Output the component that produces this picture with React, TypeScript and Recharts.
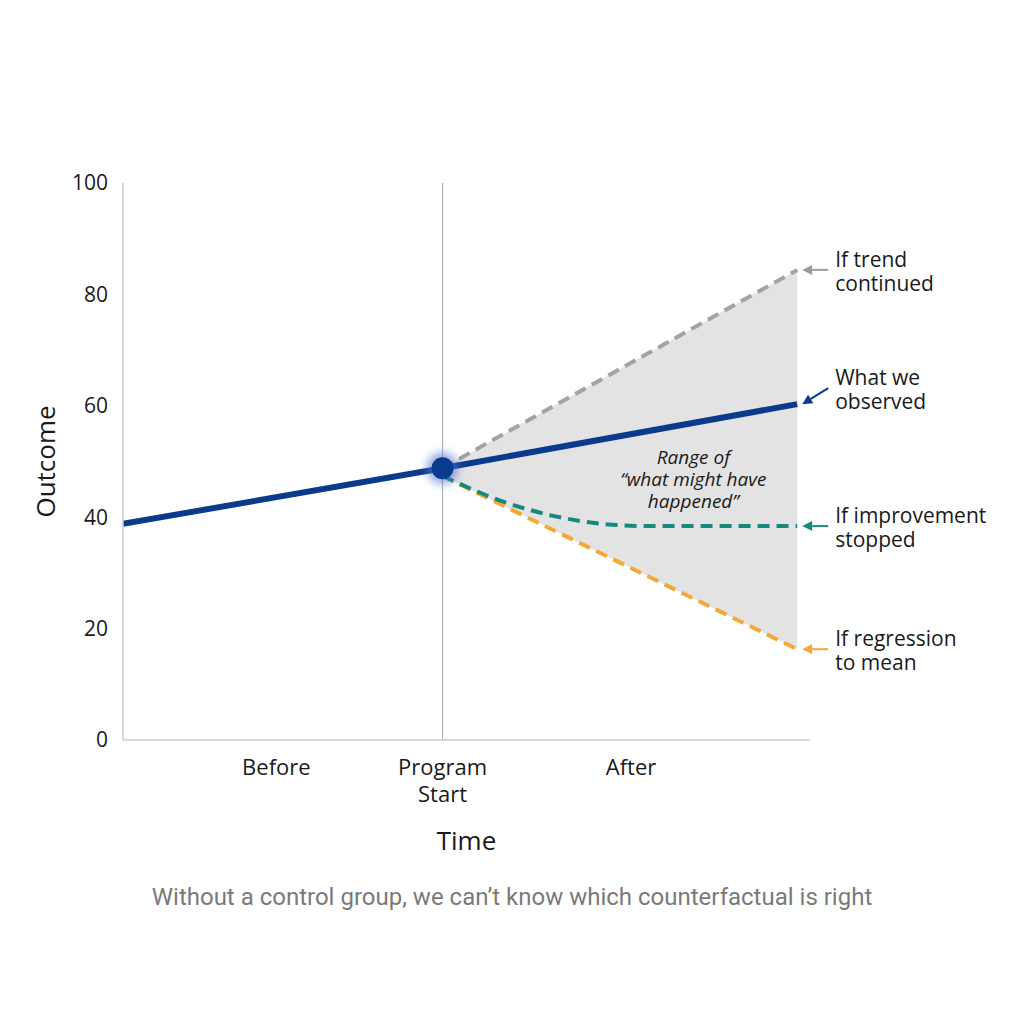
import React from 'react';
import { ComposedChart, Line, Area, XAxis, YAxis, ReferenceLine, ReferenceDot } from 'recharts';

// time units: 0 = left edge, 10 = program start
const observedX = [0, 10, 21.1];
const observedY = [38.8, 48.8, 60.3];
const trendX = [10, 21.1];
const trendY = [48.8, 84.4];
const stoppedX = [10, 12, 13.5, 15, 16.5, 21.1];
const stoppedY = [47.4, 42.6, 40.2, 38.8, 38.4, 38.4];
const regressionX = [10, 21.1];
const regressionY = [47.4, 16.3];

const xTicks = [4.8, 10, 15.9];
const xTickLabels = ['Before', 'Program\nStart', 'After'];
const yTicks = [0, 20, 40, 60, 80, 100];

const programStart = 10;
const endX = 21.1;

const annotations = [
  { y: 84.4, text: ['If trend', 'continued'], color: '#9b9b9b', tailDy: 0 },
  { y: 60.3, text: ['What we', 'observed'], color: '#0a3a8c', tailDy: -16 },
  { y: 38.4, text: ['If improvement', 'stopped'], color: '#17897a', tailDy: 0 },
  { y: 16.3, text: ['If regression', 'to mean'], color: '#f2a935', tailDy: 0 },
];

const FONT = '"Open Sans", sans-serif';

const toRows = (xs: number[], ys: number[]) => xs.map((x, i) => ({ x, y: ys[i] }));
const rangeRows = trendX.map((x, i) => ({ x, range: [regressionY[i], trendY[i]] }));

const XTick = (props: any) => {
  const { x, y, payload } = props;
  const idx = xTicks.indexOf(payload.value);
  const lines = (xTickLabels[idx] || '').split('\n');
  return (
    <g>
      {lines.map((l, i) => (
        <text key={i} x={x} y={y + 18 + i * 27} dominantBaseline="central" textAnchor="middle" fontSize={22} fill="#1a1a1a" fontFamily={FONT}>
          {l}
        </text>
      ))}
    </g>
  );
};

const StartDot = (props: any) => {
  const { cx, cy } = props;
  return (
    <g>
      <defs>
        <filter id="glow" x="-100%" y="-100%" width="300%" height="300%">
          <feGaussianBlur stdDeviation="4" />
        </filter>
      </defs>
      <circle cx={cx} cy={cy} r={16} fill="#4f74d0" opacity={0.6} filter="url(#glow)" />
      <circle cx={cx} cy={cy} r={11} fill="#0a3a8c" />
    </g>
  );
};

const makeAnnotation = (a: typeof annotations[number]) => (props: any) => {
  const { cx, cy } = props;
  const tipX = cx + 5;
  const tailX = cx + 31;
  const tailY = cy + a.tailDy;
  const ang = Math.atan2(cy - tailY, tipX - tailX);
  const hl = 10;
  const hw = 5;
  const bx = tipX - hl * Math.cos(ang);
  const by = cy - hl * Math.sin(ang);
  const px = -Math.sin(ang) * hw;
  const py = Math.cos(ang) * hw;
  return (
    <g>
      <line x1={tailX} y1={tailY} x2={bx} y2={by} stroke={a.color} strokeWidth={2} />
      <polygon points={`${tipX},${cy} ${bx + px},${by + py} ${bx - px},${by - py}`} fill={a.color} />
      {a.text.map((t, i) => (
        <text key={i} x={cx + 38} y={tailY - 11 + i * 24} dominantBaseline="central" fontSize={21} fill="#1a1a1a" fontFamily={FONT}>
          {t}
        </text>
      ))}
    </g>
  );
};

const rangeLines = ['Range of', '“what might have', 'happened”'];

const RangeText = (props: any) => {
  const { cx, cy } = props;
  return (
    <g>
      {rangeLines.map((t, i) => (
        <text key={i} x={cx} y={cy - 22 + i * 22} dominantBaseline="central" textAnchor="middle" fontSize={19} fontStyle="italic" fill="#1a1a1a" fontFamily={FONT}>
          {t}
        </text>
      ))}
    </g>
  );
};

export default function App() {
  return (
    <div style={{ position: 'relative', width: 1008, height: 1008, background: '#fff' }}>
      <ComposedChart width={1008} height={1008} margin={{ top: 175, right: 206, left: 0, bottom: 0 }}>
        <XAxis
          type="number"
          dataKey="x"
          domain={[0, 21.5]}
          ticks={xTicks}
          height={276}
          axisLine={{ stroke: '#c8c8c8', strokeWidth: 1.5 }}
          tickLine={false}
          tick={<XTick />}
          allowDataOverflow
          label={(p: any) => {
            const vb = p.viewBox;
            return (
              <text x={vb.x + vb.width / 2} y={vb.y + 100} dominantBaseline="central" textAnchor="middle" fontSize={26} fill="#1a1a1a" fontFamily={FONT}>
                Time
              </text>
            );
          }}
        />
        <YAxis
          type="number"
          domain={[0, 100]}
          ticks={yTicks}
          width={115}
          axisLine={{ stroke: '#c8c8c8', strokeWidth: 1.5 }}
          tickLine={false}
          tickSize={0}
          tickMargin={15}
          tick={{ fontSize: 21, fill: '#1a1a1a', fontFamily: FONT }}
          label={(p: any) => {
            const vb = p.viewBox;
            const cx = 37;
            const cy = vb.y + vb.height / 2;
            return (
              <text x={cx} y={cy} textAnchor="middle" dominantBaseline="central" fontSize={26} fill="#1a1a1a" fontFamily={FONT} transform={`rotate(-90, ${cx}, ${cy})`}>
                Outcome
              </text>
            );
          }}
        />
        <Area
          data={rangeRows}
          dataKey="range"
          type="linear"
          stroke="none"
          fill="#e3e3e3"
          fillOpacity={1}
          isAnimationActive={false}
        />
        <ReferenceLine x={programStart} stroke="#b5b5b5" strokeWidth={1.2} />
        <Line
          data={toRows(trendX, trendY)}
          dataKey="y"
          type="linear"
          stroke="#a3a3a3"
          strokeWidth={4}
          strokeDasharray="12 7"
          dot={false}
          isAnimationActive={false}
        />
        <Line
          data={toRows(regressionX, regressionY)}
          dataKey="y"
          type="linear"
          stroke="#f2a935"
          strokeWidth={4}
          strokeDasharray="12 7"
          dot={false}
          isAnimationActive={false}
        />
        <Line
          data={toRows(stoppedX, stoppedY)}
          dataKey="y"
          type="monotone"
          stroke="#17897a"
          strokeWidth={4}
          strokeDasharray="12 7"
          dot={false}
          isAnimationActive={false}
        />
        <Line
          data={toRows(observedX, observedY)}
          dataKey="y"
          type="linear"
          stroke="#0a3a8c"
          strokeWidth={6}
          dot={false}
          isAnimationActive={false}
        />
        <ReferenceDot x={programStart} y={observedY[1]} r={11} shape={<StartDot />} />
        <ReferenceDot x={17.85} y={46.9} r={0} shape={<RangeText />} />
        {annotations.map((a, i) => (
          <ReferenceDot key={i} x={endX} y={a.y} r={0} shape={makeAnnotation(a)} />
        ))}
      </ComposedChart>
      <div
        style={{
          position: 'absolute',
          top: 875,
          left: 0,
          width: 1008,
          textAlign: 'center',
          fontFamily: 'Roboto, sans-serif',
          fontSize: 24,
          color: '#7a7a7a',
        }}
      >
        Without a control group, we can’t know which counterfactual is right
      </div>
    </div>
  );
}
